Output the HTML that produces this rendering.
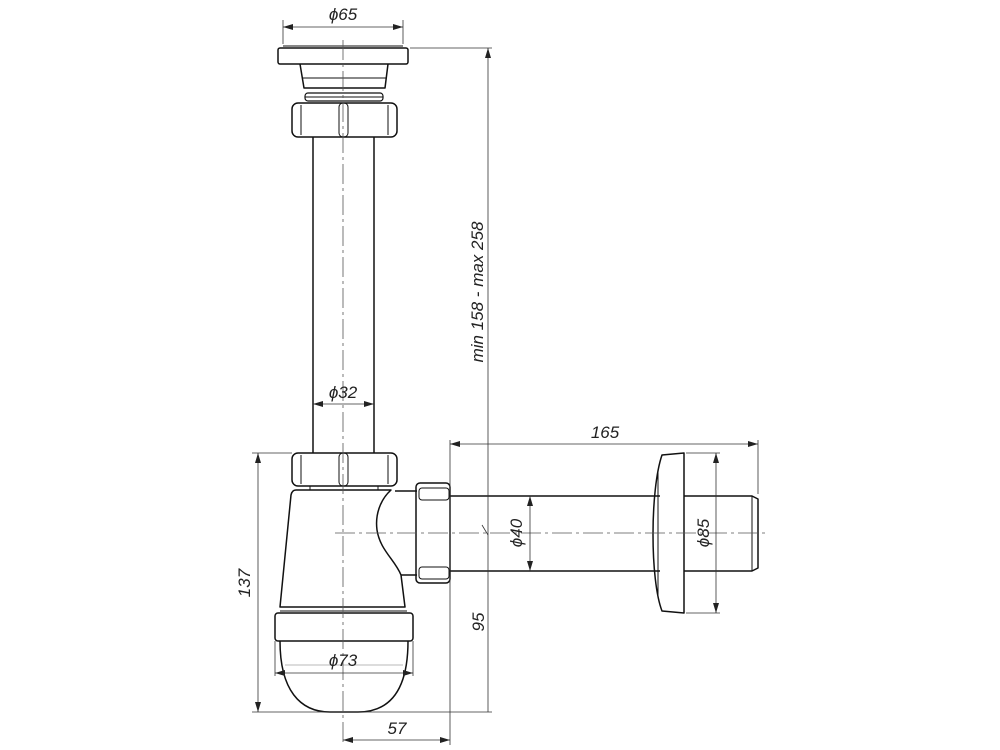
<!DOCTYPE html>
<html><head><meta charset="utf-8"><style>
html,body{margin:0;padding:0;background:#fff;}
svg{display:block;}
text{font-family:"Liberation Sans",sans-serif;font-style:italic;font-size:17px;fill:#222;}
</style></head><body>
<svg width="1000" height="750" viewBox="0 0 1000 750" xmlns="http://www.w3.org/2000/svg">
<defs>
<marker id="a" viewBox="0 0 10 6" refX="10" refY="3" markerWidth="10" markerHeight="6" orient="auto-start-reverse" markerUnits="userSpaceOnUse"><path d="M0,0 L10,3 L0,6z" fill="#222"/></marker>
</defs>
<g fill="none" stroke="#111" stroke-width="1.5" stroke-linejoin="round">
<!-- top flange -->
<line x1="283" y1="46" x2="403" y2="46" stroke-width="1"/>
<rect x="278" y="48" width="130" height="16" rx="2"/>
<path d="M300 64 L304 88 L385 88 L388 64"/>
<line x1="302" y1="78" x2="386" y2="78" stroke-width="1"/>
<rect x="305" y="93" width="78" height="8" rx="3" stroke-width="1.2"/>
<line x1="305" y1="97" x2="383" y2="97" stroke-width="1"/>
<!-- top nut -->
<rect x="292" y="103" width="105" height="34" rx="6"/>
<line x1="301" y1="105" x2="301" y2="135" stroke-width="1"/>
<line x1="388" y1="105" x2="388" y2="135" stroke-width="1"/>
<rect x="339" y="103" width="9" height="34" rx="4" stroke-width="1"/>
<!-- vertical pipe -->
<line x1="313" y1="137" x2="313" y2="453"/>
<line x1="374" y1="137" x2="374" y2="453"/>
<!-- lower nut -->
<rect x="292" y="453" width="105" height="33" rx="6"/>
<line x1="301" y1="455" x2="301" y2="484" stroke-width="1"/>
<line x1="388" y1="455" x2="388" y2="484" stroke-width="1"/>
<rect x="339" y="453" width="9" height="33" rx="4" stroke-width="1"/>
<line x1="310" y1="486" x2="310" y2="490" stroke-width="1"/>
<line x1="378" y1="486" x2="378" y2="490" stroke-width="1"/>
<!-- body -->
<path d="M296 490 L391 490 C380 500 375 515 377 530 C380 550 395 560 401 575 L405 607 L280 607 L291 495 Q292 490 296 490 Z"/>
<line x1="395" y1="491" x2="417" y2="491"/>
<line x1="401" y1="575" x2="417" y2="575"/>
<!-- outlet nut -->
<rect x="416" y="483" width="34" height="100" rx="4"/>
<rect x="419" y="488" width="30" height="12" rx="3" stroke-width="1"/>
<rect x="419" y="567" width="30" height="12" rx="3" stroke-width="1"/>
<!-- lower ring -->
<line x1="280" y1="611" x2="407" y2="611" stroke-width="1"/>
<rect x="275" y="613" width="138" height="28" rx="3"/>
<!-- bowl -->
<path d="M280 641 C280 690 300 712 330 712 L358 712 C390 712 408 690 408 641"/>
<line x1="285" y1="665" x2="403" y2="665" stroke-width="0.6" stroke="#777"/>
<!-- horizontal pipe -->
<line x1="450" y1="496" x2="660" y2="496"/>
<line x1="450" y1="571" x2="660" y2="571"/>
<path d="M662 455 L684 453 L684 613 L662 611 C650 580 650 490 662 455 Z"/>
<line x1="658" y1="470" x2="658" y2="598" stroke-width="1"/>
<path d="M684 496 L752 496 L758 499 L758 568 L752 571 L684 571"/>
<line x1="752" y1="496" x2="752" y2="571" stroke-width="1"/>
</g>
<!-- center lines -->
<g stroke="#555" stroke-width="0.8" stroke-dasharray="20,4,3,4" fill="none">
<line x1="343" y1="40" x2="343" y2="745"/>
<line x1="335" y1="533" x2="765" y2="533"/>
</g>
<!-- dimensions -->
<g stroke="#333" stroke-width="0.8" fill="none">
<line x1="283" y1="20" x2="283" y2="44"/>
<line x1="403" y1="20" x2="403" y2="44"/>
<line x1="283" y1="27" x2="403" y2="27" marker-start="url(#a)" marker-end="url(#a)"/>
<line x1="410" y1="48" x2="492" y2="48"/>
<line x1="488" y1="48" x2="488" y2="712" marker-start="url(#a)"/>
<line x1="482" y1="525" x2="488" y2="535"/>
<line x1="313" y1="404" x2="374" y2="404" marker-start="url(#a)" marker-end="url(#a)"/>
<line x1="450" y1="440" x2="450" y2="745"/>
<line x1="758" y1="440" x2="758" y2="494"/>
<line x1="450" y1="444" x2="758" y2="444" marker-start="url(#a)" marker-end="url(#a)"/>
<line x1="530" y1="496" x2="530" y2="571" marker-start="url(#a)" marker-end="url(#a)"/>
<line x1="686" y1="453" x2="720" y2="453"/>
<line x1="686" y1="613" x2="720" y2="613"/>
<line x1="716" y1="453" x2="716" y2="613" marker-start="url(#a)" marker-end="url(#a)"/>
<line x1="252" y1="453" x2="292" y2="453"/>
<line x1="252" y1="712" x2="492" y2="712"/>
<line x1="258" y1="453" x2="258" y2="712" marker-start="url(#a)" marker-end="url(#a)"/>
<line x1="275" y1="641" x2="275" y2="676"/>
<line x1="413" y1="641" x2="413" y2="676"/>
<line x1="275" y1="673" x2="413" y2="673" marker-start="url(#a)" marker-end="url(#a)"/>
<line x1="343" y1="740" x2="450" y2="740" marker-start="url(#a)" marker-end="url(#a)"/>
</g>
<text x="343" y="20" text-anchor="middle">ϕ65</text>
<text x="343" y="398" text-anchor="middle">ϕ32</text>
<text x="605" y="438" text-anchor="middle">165</text>
<text x="343" y="666" text-anchor="middle">ϕ73</text>
<text x="397" y="734" text-anchor="middle">57</text>
<text transform="translate(483,292) rotate(-90)" text-anchor="middle">min 158 - max 258</text>
<text transform="translate(522,533) rotate(-90)" text-anchor="middle">ϕ40</text>
<text transform="translate(709,533) rotate(-90)" text-anchor="middle">ϕ85</text>
<text transform="translate(250,583) rotate(-90)" text-anchor="middle">137</text>
<text transform="translate(484,622) rotate(-90)" text-anchor="middle">95</text>
</svg>
</body></html>
